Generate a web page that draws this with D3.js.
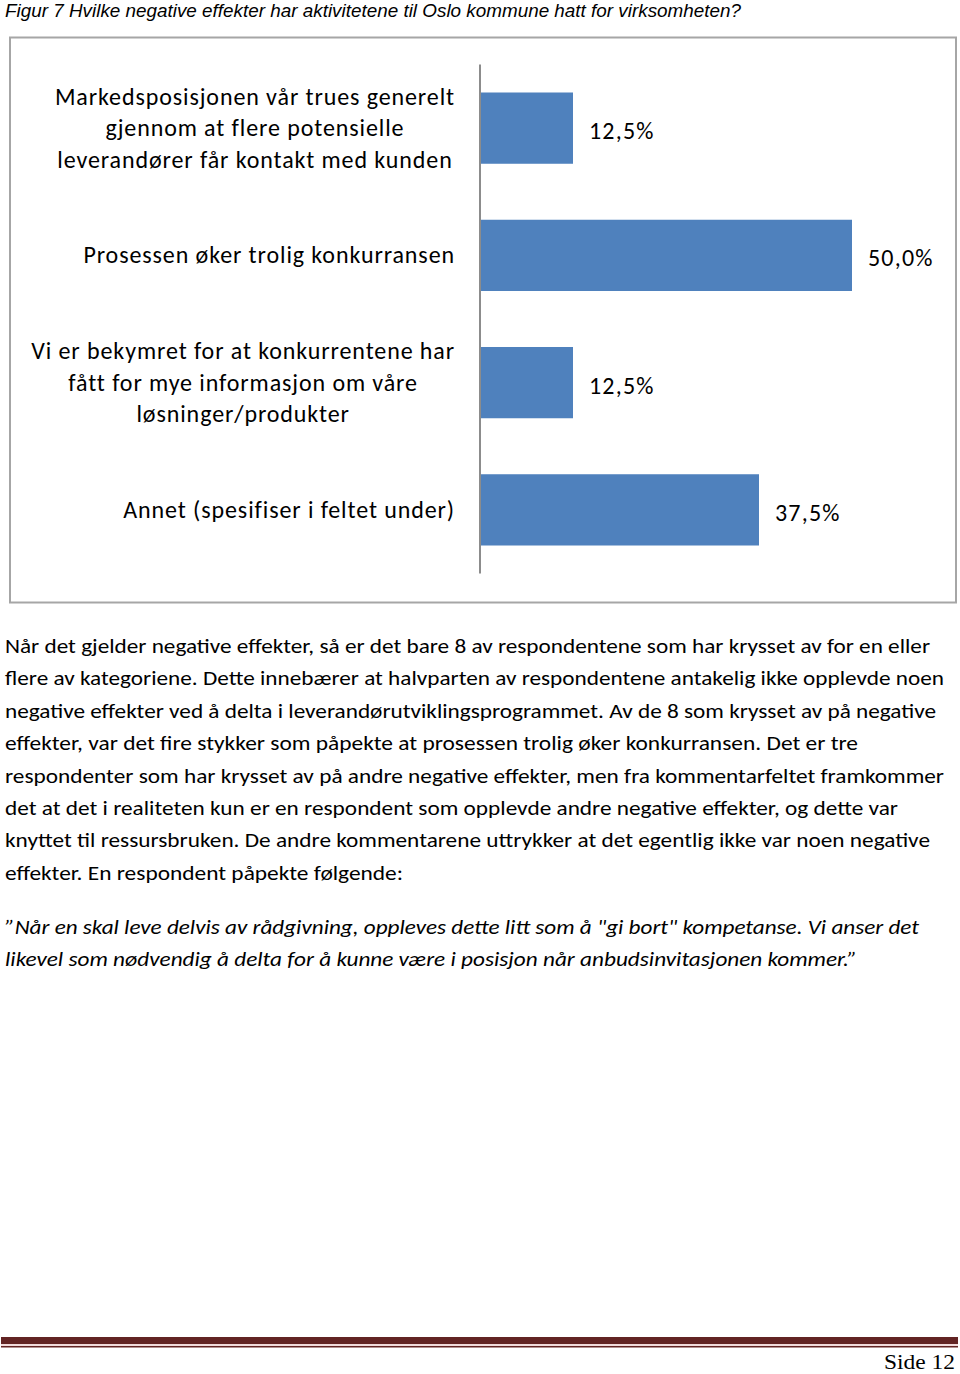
<!DOCTYPE html>
<html><head><meta charset="utf-8">
<script src="https://cdn.jsdelivr.net/npm/d3@7/dist/d3.min.js"></script>
<style>body{margin:0;background:#fff}svg{display:block}</style>
</head><body>
<script>
const title = "Figur 7 Hvilke negative effekter har aktivitetene til Oslo kommune hatt for virksomheten?";
const categories = [
  ["Markedsposisjonen vår trues generelt","gjennom at flere potensielle","leverandører får kontakt med kunden"],
  ["Prosessen øker trolig konkurransen"],
  ["Vi er bekymret for at konkurrentene har","fått for mye informasjon om våre","løsninger/produkter"],
  ["Annet (spesifiser i feltet under)"]
];
const values = [0.125, 0.5, 0.125, 0.375];
const valueLabels = ["12,5%","50,0%","12,5%","37,5%"];
const bodyLines = [
  "Når det gjelder negative effekter, så er det bare 8 av respondentene som har krysset av for en eller",
  "flere av kategoriene. Dette innebærer at halvparten av respondentene antakelig ikke opplevde noen",
  "negative effekter ved å delta i leverandørutviklingsprogrammet. Av de 8 som krysset av på negative",
  "effekter, var det fire stykker som påpekte at prosessen trolig øker konkurransen.  Det er tre",
  "respondenter som har krysset av på andre negative effekter, men fra kommentarfeltet framkommer",
  "det at det i realiteten kun er en respondent som opplevde andre negative effekter, og dette var",
  "knyttet til ressursbruken. De andre kommentarene uttrykker at det egentlig ikke var noen negative",
  "effekter. En respondent påpekte følgende:"
];
const quoteLines = [
  "\u201DNår en skal leve delvis av rådgivning, oppleves dette litt som å \"gi bort\" kompetanse. Vi anser det",
  "likevel som nødvendig å delta for å kunne være i posisjon når anbudsinvitasjonen kommer.\u201D"
];
const footerText = "Side 12";

// layout (not data)
const bodyRight = [930, 944, 936, 858, 944, 898, 930, 403];
const quoteRight = [919, 857];

const W = 960, H = 1374;
const svg = d3.select("body").append("svg").attr("width", W).attr("height", H);
const FONT = "Carlito, Lato, 'Open Sans', sans-serif";

// title
svg.append("text").attr("x", 5).attr("y", 17)
  .attr("font-family", "'Liberation Sans Narrow', 'Liberation Sans', Arial, sans-serif")
  .attr("font-style", "italic").attr("font-size", 18).attr("fill", "#000")
  .attr("textLength", 736).attr("lengthAdjust", "spacingAndGlyphs")
  .text(title);

// chart frame
svg.append("rect").attr("x", 10).attr("y", 37.5).attr("width", 946).attr("height", 565)
  .attr("fill", "#fff").attr("stroke", "#a6a6a6").attr("stroke-width", 2);

const x = d3.scaleLinear().domain([0, 0.5]).range([480, 852]);
const y = d3.scaleBand().domain(d3.range(categories.length)).range([64.5, 573.5]).paddingInner(0.44).paddingOuter(0.22);

svg.selectAll("rect.bar").data(values).join("rect").attr("class", "bar")
  .attr("x", x(0)).attr("y", (d, i) => y(i)).attr("width", d => x(d) - x(0)).attr("height", y.bandwidth())
  .attr("fill", "#4f81bd");

// axis line
svg.append("line").attr("x1", 480).attr("x2", 480).attr("y1", 64.5).attr("y2", 573.5)
  .attr("stroke", "#8c8c8c").attr("stroke-width", 2);

// category labels
categories.forEach((lines, i) => {
  const cy = y(i) + y.bandwidth() / 2;
  const g = svg.append("g");
  const n = lines.length;
  const ts = lines.map((l, k) => g.append("text")
    .attr("y", cy + (k - (n - 1) / 2) * 31.5 + 8)
    .attr("font-family", FONT).attr("font-size", 24).attr("letter-spacing", 0.9).attr("fill", "#000")
    .attr("text-anchor", "middle").text(l));
  const maxw = d3.max(ts, t => t.node().getComputedTextLength());
  ts.forEach(t => t.attr("x", 455 - maxw / 2));
});

// value labels
svg.selectAll("text.val").data(values).join("text").attr("class", "val")
  .attr("x", d => x(d) + 16).attr("y", (d, i) => y(i) + y.bandwidth() / 2 + 11)
  .attr("font-family", FONT).attr("font-size", 24).attr("letter-spacing", 1.2).attr("fill", "#000")
  .text((d, i) => valueLabels[i]);

// body text
bodyLines.forEach((l, i) => {
  svg.append("text").attr("x", 5).attr("y", 653 + i * 32.4)
    .attr("font-family", FONT).attr("font-size", 20).attr("fill", "#000")
    .attr("textLength", bodyRight[i] - 5).attr("lengthAdjust", "spacingAndGlyphs")
    .text(l);
});
quoteLines.forEach((l, i) => {
  svg.append("text").attr("x", 5).attr("y", 934 + i * 32.4)
    .attr("font-family", FONT).attr("font-size", 20).attr("font-style", "italic").attr("fill", "#000")
    .attr("textLength", quoteRight[i] - 5).attr("lengthAdjust", "spacingAndGlyphs")
    .text(l);
});

// footer lines
svg.append("rect").attr("x", 1).attr("y", 1337).attr("width", 957).attr("height", 7).attr("fill", "#622423");
svg.append("rect").attr("x", 1).attr("y", 1344).attr("width", 957).attr("height", 2).attr("fill", "#f2dbdb");
svg.append("rect").attr("x", 1).attr("y", 1346).attr("width", 957).attr("height", 1.5).attr("fill", "#622423");
svg.append("text").attr("x", 955).attr("y", 1369).attr("text-anchor", "end")
  .attr("font-family", "'Liberation Serif', 'DejaVu Serif', serif").attr("font-size", 21).attr("fill", "#000")
  .attr("textLength", 71).attr("lengthAdjust", "spacingAndGlyphs")
  .text(footerText);
</script>
</body></html>
